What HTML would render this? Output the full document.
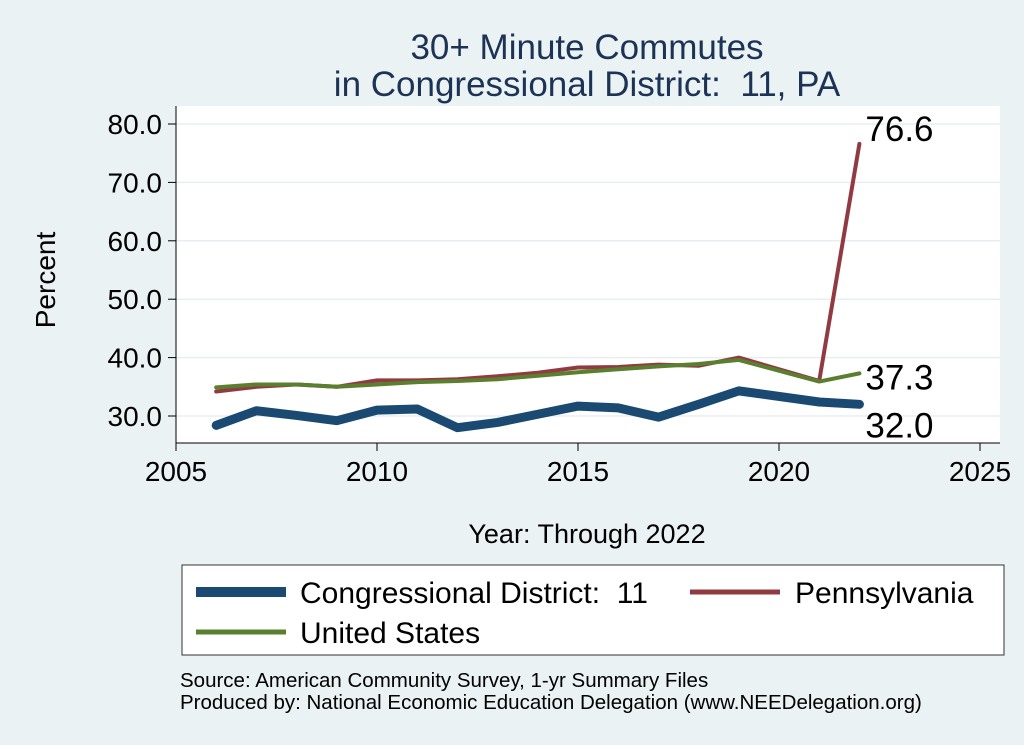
<!DOCTYPE html>
<html><head><meta charset="utf-8"><style>
body{margin:0;background:#eaf2f3;font-family:"Liberation Sans",sans-serif;}
svg{display:block}
</style></head><body>
<svg width="1024" height="745">
<rect width="1024" height="745" fill="#eaf2f3"/>
<text x="587" y="59" font-size="35" fill="#1c3355" text-anchor="middle">30+ Minute Commutes</text>
<text x="587" y="96" font-size="35" fill="#1c3355" text-anchor="middle">in Congressional District:&#160; 11, PA</text>
<rect x="176" y="106" width="824" height="337" fill="#fff"/>
<g id="grid"></g><g id="axes"></g><g id="lines"></g>
<text x="55" y="280" font-size="28" text-anchor="middle" transform="rotate(-90 55 280)">Percent</text>
<text x="587" y="543" font-size="27" text-anchor="middle">Year: Through 2022</text>
<rect x="182" y="565" width="822" height="90" fill="#fff" stroke="#333" stroke-width="1"/>
<g><line x1="196" y1="592" x2="286" y2="592" stroke="#1a4a72" stroke-width="10"/><text x="300" y="603" font-size="30">Congressional District:&#160; 11</text></g>
<g><line x1="690" y1="592" x2="780" y2="592" stroke="#923a42" stroke-width="5"/><text x="795" y="603" font-size="30">Pennsylvania</text></g>
<g><line x1="196" y1="632" x2="286" y2="632" stroke="#5a7f2e" stroke-width="5"/><text x="300" y="643" font-size="30">United States</text></g>
<text x="180" y="687" font-size="20.5">Source: American Community Survey, 1-yr Summary Files</text>
<text x="180" y="709" font-size="20.5">Produced by: National Economic Education Delegation (www.NEEDelegation.org)</text>
</svg>
<script>
const years=[2006,2007,2008,2009,2010,2011,2012,2013,2014,2015,2016,2017,2018,2019,2021,2022];
const district=[28.4,30.9,30.1,29.2,31.0,31.2,28.0,28.9,30.3,31.7,31.4,29.8,32.0,34.3,32.4,32.0];
const pennsylvania=[34.2,35.0,35.4,35.0,36.1,36.1,36.3,36.8,37.4,38.3,38.4,38.8,38.6,40.0,36.0,76.6];
const unitedStates=[34.9,35.4,35.4,35.0,35.4,35.8,36.0,36.3,36.9,37.5,38.0,38.5,38.9,39.6,35.9,37.3];
const yTicks=[30,40,50,60,70,80];
const xTicks=[2005,2010,2015,2020,2025];
const NS="http://www.w3.org/2000/svg";
const xs=v=>176+(v-2005)*40.2;
const ys=v=>416-(v-30)*5.84;
function mk(t,a,p){const e=document.createElementNS(NS,t);for(const k in a)e.setAttribute(k,a[k]);document.getElementById(p).appendChild(e);return e;}
mk('line',{x1:176,y1:106,x2:176,y2:443,stroke:'#000'},'axes');
mk('line',{x1:176,y1:443,x2:1000,y2:443,stroke:'#000'},'axes');
yTicks.forEach(v=>{
 const g=mk('line',{x1:176,y1:ys(v),x2:1000,y2:ys(v),stroke:'#e8eef0','stroke-width':1.5},'grid');
 
 
 mk('line',{x1:168,y1:ys(v),x2:176,y2:ys(v),stroke:'#000'},'axes');
 const t=mk('text',{x:162,y:ys(v)+10,'font-size':28,'text-anchor':'end'},'axes');
 t.textContent=v.toFixed(1);
 
 
});
xTicks.forEach(v=>{
 mk('line',{x1:xs(v),y1:443,x2:xs(v),y2:451,stroke:'#000'},'axes');
 const t=mk('text',{x:xs(v),y:481,'font-size':28,'text-anchor':'middle'},'axes');
 t.textContent=v;
 
 
});
function series(arr,col,w,name){
 const p=mk('polyline',{points:years.map((y,i)=>xs(y)+','+ys(arr[i])).join(' '),fill:'none',stroke:col,'stroke-width':w,'stroke-linejoin':'round','stroke-linecap':'round'},'lines');
 
 
}
series(pennsylvania,'#923a42',4,'pennsylvania-line');
series(unitedStates,'#5a7f2e',4,'united-states-line');
series(district,'#1a4a72',9,'district-line');
const n=years.length-1;
[[pennsylvania,-3],[unitedStates,16],[district,33]].forEach(([a,dy])=>{
 const t=mk('text',{x:xs(years[n])+6,y:ys(a[n])+dy,'font-size':35},'lines');
 t.textContent=a[n].toFixed(1);
 
 
});
</script>
</body></html>
